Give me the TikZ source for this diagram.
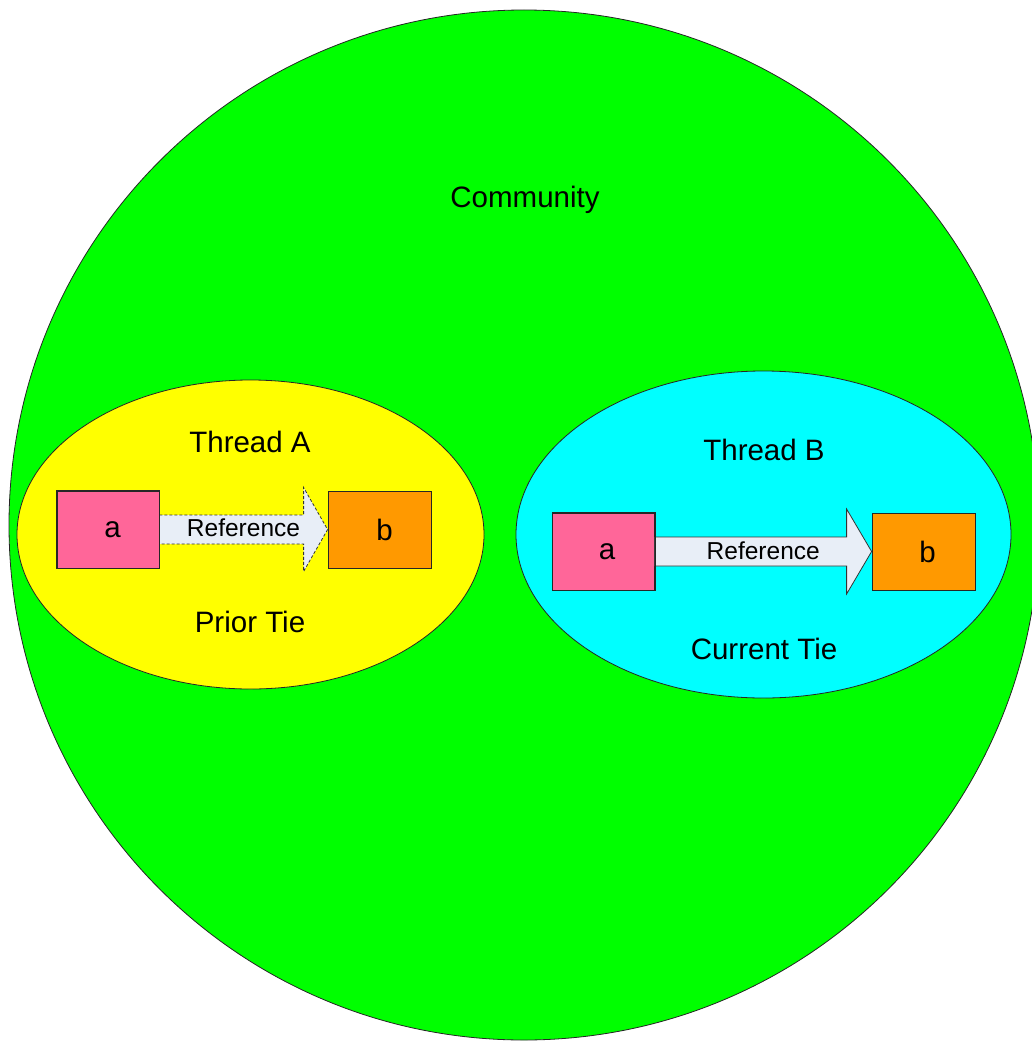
\documentclass[tikz,border=0pt]{standalone}
\usepackage{fontspec}
\setmainfont{Liberation Sans}
\usetikzlibrary{shapes.geometric,calc}
\definecolor{cgreen}{RGB}{0,255,0}
\definecolor{cyellow}{RGB}{255,255,0}
\definecolor{ccyan}{RGB}{0,255,255}
\definecolor{cpink}{RGB}{255,102,153}
\definecolor{corange}{RGB}{255,153,0}
\definecolor{carrow}{RGB}{232,238,247}
\tikzset{
  outline/.style={draw=black!85, line width=0.8pt},
  lbl/.style={font=\fontsize{29.5}{32}\selectfont, inner sep=0pt},
  reflbl/.style={font=\fontsize{24.5}{27}\selectfont, inner sep=0pt},
  boxa/.style={outline, fill=cpink, minimum width=102pt, minimum height=77pt, inner sep=0pt},
  boxb/.style={outline, fill=corange, minimum width=103pt, minimum height=77pt, inner sep=0pt},
  arrowbody/.style={draw=black!80, line width=0.8pt, fill=carrow, line join=miter},
}
\begin{document}
\begin{tikzpicture}[x=1pt,y=-1pt]
\useasboundingbox (0,0) rectangle (1032,1041);
\clip (0,0) rectangle (1032,1041);
% community circle
\node[circle, outline, fill=cgreen, minimum size=1030pt, inner sep=0pt] (community) at (524,525) {};
\node[lbl] (commlbl) at (525,200) {Community};
% thread ellipses
\node[ellipse, outline, fill=cyellow, minimum width=467pt, minimum height=309pt, inner sep=0pt] (threadA) at (250.5,534.5) {};
\node[ellipse, outline, fill=ccyan, minimum width=495pt, minimum height=327pt, inner sep=0pt] (threadB) at (763.5,534.5) {};
\node[lbl] (tAlbl) at (250,442) {Thread A};
\node[lbl] (priorlbl) at (250,622) {Prior Tie};
\node[lbl] (tBlbl) at (764,450) {Thread B};
\node[lbl] (currlbl) at (764,649) {Current Tie};
% boxes thread A
\node[boxa] (aA) at (108,529.5) {};
\node[boxb] (bA) at (379.5,529.5) {};
% boxes thread B
\node[boxa] (aB) at (603.5,551.5) {};
\node[boxb] (bB) at (923.5,551.5) {};
% arrow A (dashed)
\draw[arrowbody, dash pattern=on 3pt off 2pt]
  ($(aA.east)+(0,-14.5)$) -- ($(bA.west)+(-24,-14.5)$) -- ($(bA.west)+(-24,-42)$) -- (bA.west)
  -- ($(bA.west)+(-24,42)$) -- ($(bA.west)+(-24,14.5)$) -- ($(aA.east)+(0,14.5)$) -- cycle;
% arrow B (solid)
\draw[arrowbody]
  ($(aB.east)+(0,-14.5)$) -- ($(bB.west)+(-25,-14.5)$) -- ($(bB.west)+(-25,-42.5)$) -- (bB.west)
  -- ($(bB.west)+(-25,42.5)$) -- ($(bB.west)+(-25,14.5)$) -- ($(aB.east)+(0,14.5)$) -- cycle;
% redraw box borders on top
\draw[outline] (aA.north west) rectangle (aA.south east);
\draw[outline] (aB.north west) rectangle (aB.south east);
% labels
\node[reflbl] (refA) at ($(aA.east)!0.5!(bA.west)+(0,-1.5)$) {Reference};
\node[reflbl] (refB) at ($(aB.east)!0.5!(bB.west)+(0,-1)$) {Reference};
\node[lbl] (aAlbl) at (112.5,530) {a};
\node[lbl] (bAlbl) at (384.5,530) {b};
\node[lbl] (aBlbl) at (607,552) {a};
\node[lbl] (bBlbl) at (927.5,552) {b};
\end{tikzpicture}
\end{document}
